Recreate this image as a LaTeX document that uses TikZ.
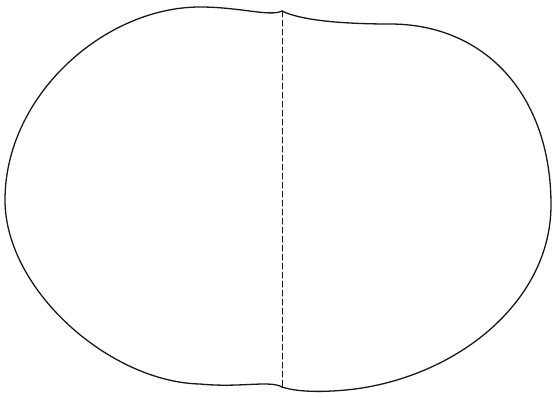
\documentclass[tikz,border=0pt]{standalone}
\usepackage{tikz}
\definecolor{outlineGray}{RGB}{25, 25, 25}

\begin{document}
\begin{tikzpicture}[x=1pt, y=-1pt, line cap=round, line join=round]
      \useasboundingbox (0,0) rectangle (553,397);

      % Dents where the two lobes meet
      \coordinate (topDent) at (282,11);
      \coordinate (botDent) at (282,387);

      % Left lobe: top dent round to bottom dent
      \draw[outlineGray, line width=1.3pt] (topDent)
        .. controls (270,17) and (240,7) .. (200,7)
        .. controls (105,7) and (5,95) .. (5,200)
        .. controls (5,290) and (110,382) .. (200,384)
        .. controls (240,388) and (270,380) .. (botDent);

      % Right lobe: bottom dent round to top dent
      \draw[outlineGray, line width=1.3pt] (botDent)
        .. controls (300,393) and (330,392) .. (355,389)
        .. controls (460,375) and (551,300) .. (551,205)
        .. controls (551,95) and (485,24) .. (390,24)
        .. controls (340,24) and (300,20) .. (topDent);

      % Dividing line
      \draw[outlineGray, line width=1pt, dash pattern=on 6pt off 3pt] (topDent) -- (botDent);
    \end{tikzpicture}
\end{document}
